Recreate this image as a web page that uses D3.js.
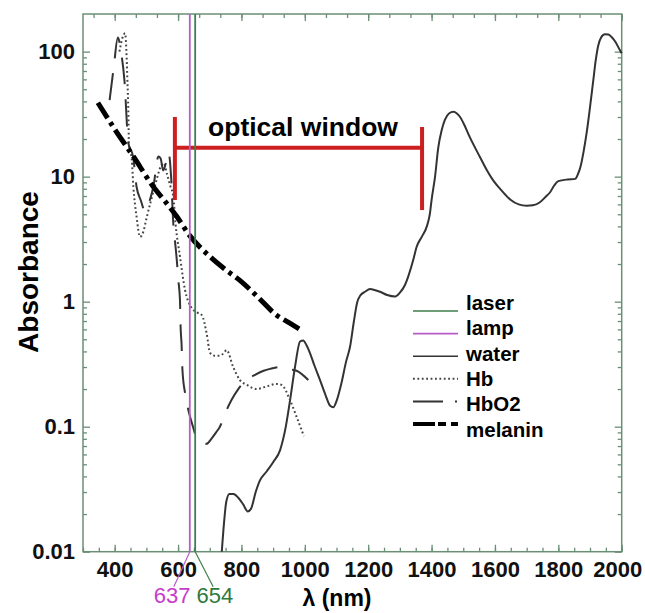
<!DOCTYPE html>
<html>
<head>
<meta charset="utf-8">
<script src="https://unpkg.com/d3@7/dist/d3.min.js"></script>
<style>
  body { margin: 0; background: #fff; }
  text { font-family: "Liberation Sans", Arial, sans-serif; }
</style>
</head>
<body>
<div id="chart"></div>
<script>
// ---- data (nm, absorbance) ----
const water = [[738,0.01],[745,0.017],[752,0.025],[762,0.029],[775,0.029],[790,0.027],[805,0.024],[820,0.021],[830,0.022],
  [845,0.03],[858,0.037],[880,0.044],[900,0.052],[922,0.065],[940,0.1],[953,0.16],[969,0.3],[985,0.48],[995,0.49],
  [1005,0.45],[1016,0.39],[1030,0.31],[1048,0.236],[1065,0.18],[1080,0.147],[1090,0.143],[1100,0.16],[1115,0.22],
  [1130,0.33],[1143,0.44],[1155,0.7],[1165,0.98],[1175,1.12],[1190,1.2],[1206,1.26],[1220,1.24],[1237,1.2],[1260,1.13],
  [1285,1.1],[1300,1.18],[1316,1.36],[1326,1.58],[1342,2.15],[1353,2.75],[1369,3.3],[1385,4.0],[1395,5.1],[1400,6.5],
  [1411,10],[1421,17],[1432,23.6],[1442,28.5],[1455,32],[1469,33],[1480,32],[1490,30],[1500,27],[1521,20.6],[1553,14.3],
  [1575,11.2],[1595,9.3],[1620,7.8],[1647,6.6],[1675,6.0],[1700,5.86],[1720,5.9],[1742,6.24],[1760,6.9],[1774,7.5],
  [1787,8.5],[1800,9.2],[1830,9.5],[1853,9.6],[1862,10.5],[1870,12],[1880,16],[1890,23],[1900,36],[1910,58],[1918,85],
  [1926,112],[1935,130],[1947,138],[1958,137],[1968,131],[1980,120],[1995,102],[2000,97]];

const hb = [[415,100],[425,130],[433,140],[437,100],[440,60],[443,34],[445,18],[454,13.6],[459,8.3],[469,4.8],[480,3.3],
  [490,3.6],[500,4.6],[515,6.5],[530,9],[545,12],[555,12.8],[565,10.5],[575,8.5],[585,6.9],[592,4.2],[606,2.3],[622,1.24],
  [643,0.89],[660,0.82],[675,0.78],[690,0.56],[701,0.39],[715,0.37],[732,0.37],[745,0.39],[753,0.41],[774,0.3],[795,0.236],
  [817,0.216],[848,0.2],[880,0.21],[911,0.22],[927,0.216],[953,0.164],[974,0.12],[997,0.084]];

const hbo2 = [[384,41],[397,75],[410,130],[420,100],[431,58],[443,18.6],[458,14.5],[469,8.3],[482,6.5],[496,5.3],[511,6.5],
  [522,8.3],[538,14.5],[545,14],[553,11.2],[562,13],[570,15.6],[578,10],[585,4.2],[590,3.1],[596,2.15],[601,1.48],[606,1.03],
  [608,0.63],[611,0.46],[614,0.28],[622,0.186],[635,0.128],[647,0.1],[659,0.081],[675,0.077],[690,0.073],[705,0.08],
  [720,0.09],[732,0.1],[750,0.13],[769,0.164],[790,0.2],[811,0.23],[843,0.26],[870,0.28],[890,0.29],[920,0.3],[943,0.29],
  [974,0.28],[1011,0.236]];

const melanin = [[347,39],[400,24],[459,14.5],[522,8.3],[560,6.3],[596,4.8],[632,3.5],[700,2.3],[750,1.8],[795,1.48],
  [850,1.1],[911,0.78],[950,0.68],[985,0.6]];

const laserNm = 654;
const lampNm = 637;
const windowNm = [590, 1370];
const windowLevels = [30, 17, 6.5];   // top, bar, bottom of the bracket

const xTicks = [400, 600, 800, 1000, 1200, 1400, 1600, 1800, 2000];
const yTicks = [0.01, 0.1, 1, 10, 100];
const legendNames = ["laser", "lamp", "water", "Hb", "HbO2", "melanin"];

// ---- layout ----
const W = 645, H = 613;
const L = 83, R = 621.7, T = 14, B = 551.7;
const axisColor = "#6b8f76";

const svg = d3.select("#chart").append("svg").attr("width", W).attr("height", H);

const x = d3.scaleLinear().domain([300, 2000]).range([L, R]);
const y = d3.scaleLog().domain([0.01, 200]).range([B, T]);

// minor ticks
const yMinor = [];
[0.01, 0.1, 1, 10, 100].forEach(d => { for (let k = 2; k <= 9; k++) if (d * k < 200) yMinor.push(d * k); });
const xMinorBottom = d3.range(300, 2001, 50);
const xMinorTop = d3.range(2000, 299, -200 / 3);

function styleAxis(g) {
  g.select(".domain").remove();
  g.selectAll("line").attr("stroke", axisColor).attr("stroke-width", 1.3);
  g.selectAll("text").attr("font-size", 22).attr("font-weight", "bold").attr("fill", "#111");
}

// bottom
svg.append("g").attr("transform", `translate(0,${B})`)
  .call(d3.axisBottom(x).tickValues(xMinorBottom).tickSize(-4).tickFormat(""))
  .call(styleAxis);
const xAxisG = svg.append("g").attr("transform", `translate(0,${B})`)
  .call(d3.axisBottom(x).tickValues(xTicks).tickSize(-7).tickPadding(10).tickFormat(d => d))
  .call(styleAxis);
// last label sits inside the page edge
xAxisG.selectAll(".tick text").filter(d => d === 2000)
  .attr("text-anchor", "end").attr("x", 20);
// top
svg.append("g").attr("transform", `translate(0,${T})`)
  .call(d3.axisTop(x).tickValues(xMinorTop).tickSize(-4).tickFormat(""))
  .call(styleAxis);
svg.append("g").attr("transform", `translate(0,${T})`)
  .call(d3.axisTop(x).tickValues(xTicks).tickSize(-7).tickFormat(""))
  .call(styleAxis);
// left
svg.append("g").attr("transform", `translate(${L},0)`)
  .call(d3.axisLeft(y).tickValues(yMinor).tickSize(-4).tickFormat(""))
  .call(styleAxis);
svg.append("g").attr("transform", `translate(${L},0)`)
  .call(d3.axisLeft(y).tickValues(yTicks).tickSize(-7).tickPadding(8).tickFormat(d => String(d)))
  .call(styleAxis);
// right
svg.append("g").attr("transform", `translate(${R},0)`)
  .call(d3.axisRight(y).tickValues(yMinor).tickSize(-4).tickFormat(""))
  .call(styleAxis);
svg.append("g").attr("transform", `translate(${R},0)`)
  .call(d3.axisRight(y).tickValues(yTicks).tickSize(-7).tickFormat(""))
  .call(styleAxis);

// frame
svg.append("rect").attr("x", L).attr("y", T).attr("width", R - L).attr("height", B - T)
  .attr("fill", "none").attr("stroke", axisColor).attr("stroke-width", 1.5);

// axis titles
svg.append("text").attr("transform", `translate(38,272) rotate(-90)`)
  .attr("text-anchor", "middle").attr("font-size", 28).attr("font-weight", "bold").text("Absorbance");
svg.append("text").attr("x", 337).attr("y", 606)
  .attr("text-anchor", "middle").attr("font-size", 23).attr("font-weight", "bold").text("λ (nm)");

// curves
const line = d3.line().x(d => x(d[0])).y(d => y(d[1])).curve(d3.curveMonotoneX);

const styles = {
  laser:   { stroke: "#3f7f4c", width: 1.6, dash: null },
  lamp:    { stroke: "#b85cc8", width: 1.6, dash: null },
  water:   { stroke: "#333", width: 2, dash: null },
  Hb:      { stroke: "#444", width: 2, dash: "1.8,2.6" },
  HbO2:    { stroke: "#333", width: 2, dash: "27,15" },
  melanin: { stroke: "#000", width: 5, dash: "18,5,4,5" }
};

const series = [["water", water], ["Hb", hb], ["HbO2", hbo2], ["melanin", melanin]];
series.forEach(([name, data]) => {
  const s = styles[name];
  svg.append("path").datum(data)
    .attr("d", line)
    .attr("fill", "none")
    .attr("stroke", s.stroke)
    .attr("stroke-width", s.width)
    .attr("stroke-dasharray", s.dash);
});

// optical window bracket
const red = "#cc1f1f";
const bracket = svg.append("g").attr("stroke", red).attr("stroke-width", 4);
bracket.append("line").attr("x1", x(windowNm[0])).attr("x2", x(windowNm[1]))
  .attr("y1", y(windowLevels[1])).attr("y2", y(windowLevels[1]));
bracket.append("line").attr("x1", x(windowNm[0])).attr("x2", x(windowNm[0]))
  .attr("y1", y(windowLevels[0]) ).attr("y2", y(windowLevels[2]) );
bracket.append("line").attr("x1", x(windowNm[1])).attr("x2", x(windowNm[1]))
  .attr("y1", y(windowLevels[0]) + 10).attr("y2", y(windowLevels[2]) + 10);
svg.append("text").attr("x", 303).attr("y", 136).attr("text-anchor", "middle")
  .attr("font-size", 26.5).attr("font-weight", "bold").text("optical window");

// lamp and laser lines
[[lampNm, styles.lamp.stroke, "#c63ccc", -16], [laserNm, styles.laser.stroke, "#2f7a3a", 18]].forEach(([nm, c, tc, dx]) => {
  svg.append("line").attr("x1", x(nm)).attr("x2", x(nm)).attr("y1", T).attr("y2", B)
    .attr("stroke", c).attr("stroke-width", 1.8);
  svg.append("line").attr("x1", x(nm)).attr("x2", x(nm) + dx).attr("y1", B).attr("y2", B + 35)
    .attr("stroke", c).attr("stroke-width", 1.2);
  svg.append("text").attr("x", x(nm) + dx * 1.1).attr("y", 603).attr("text-anchor", "middle")
    .attr("font-size", 22).attr("fill", tc).text(nm);
});

// legend
const leg = svg.append("g");
legendNames.forEach((name, i) => {
  const s = styles[name];
  const ly = 311 + i * 22.6;
  leg.append("line").attr("x1", 413).attr("x2", 458).attr("y1", ly).attr("y2", ly)
    .attr("stroke", s.stroke).attr("stroke-width", name === "melanin" ? 4 : (s.dash ? 2 : 1.6))
    .attr("stroke-dasharray", name === "melanin" ? "22,3,8,5,8" : name === "HbO2" ? "30,12,2" : s.dash);
  leg.append("text").attr("x", 466).attr("y", 310 + i * 25.3)
    .attr("font-size", 20.5).attr("font-weight", "bold").text(name);
});
</script>
</body>
</html>
